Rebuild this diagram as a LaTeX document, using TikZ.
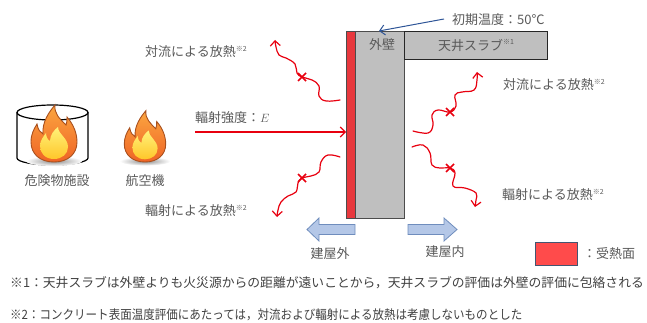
\documentclass[tikz,border=0pt]{standalone}
\usepackage{fontspec}
\newfontfamily\jp{Noto Sans CJK JP}
\usetikzlibrary{arrows.meta,calc}

\definecolor{txt}{HTML}{595959}
\definecolor{notetxt}{HTML}{404040}
\definecolor{heatred}{HTML}{E8383D}
\definecolor{legendred}{HTML}{FF4B4B}
\definecolor{wallgray}{HTML}{BFBFBF}
\definecolor{waver}{HTML}{E8000F}
\definecolor{tempblue}{HTML}{2E5597}
\definecolor{blockfill}{HTML}{B4C7E7}
\definecolor{blockedge}{HTML}{6F8DBD}
\definecolor{flameedge}{HTML}{A9501E}
\definecolor{flametop}{HTML}{FBA640}
\definecolor{flamebot}{HTML}{EF6426}
\definecolor{coretop}{HTML}{FFF27A}
\definecolor{corebot}{HTML}{FFC62A}

% small raised note mark
\newcommand\noteref[1]{\raisebox{0.45em}{\fontsize{7}{7}\selectfont ※#1}}

\tikzset{
  lbl/.style={font=\jp\fontsize{13}{15}\selectfont, text=txt, inner sep=0pt},
  note/.style={font=\jp\fontsize{12.8}{14}\selectfont, text=notetxt, inner sep=0pt, anchor=west},
  wave/.style={waver, line width=1.2pt, line cap=round, line join=round,
    -{Straight Barb[length=5pt,width=10pt]}},
  crossline/.style={waver, line width=1.5pt},
  block/.style={fill=blockfill, draw=blockedge, line width=0.8pt},
  panel/.style={draw=black!70, line width=0.8pt, inner sep=0pt, anchor=north west},
  xcross/.pic={\draw[crossline] (-4,-4) -- (4,4) (-4,4) -- (4,-4);},
  flame/.pic={
    \shade[shading=radial, inner color=black!45, outer color=white] (0,-1) ellipse (28 and 5);
    \path[draw=flameedge, line width=0.9pt, top color=flametop, bottom color=flamebot]
      (0,0) .. controls (-14,0) and (-23,-8) .. (-23,-20)
      .. controls (-23,-28) and (-20,-33) .. (-17,-38)
      .. controls (-16,-32) and (-14,-30) .. (-11,-28)
      .. controls (-12,-40) and (-5,-50) .. (1,-57)
      .. controls (0,-48) and (6,-43) .. (12,-37)
      .. controls (13,-39) and (13,-42) .. (13,-45)
      .. controls (20,-37) and (23,-28) .. (23,-20)
      .. controls (23,-8) and (14,0) .. (0,0) -- cycle;
    \path[top color=coretop, bottom color=corebot]
      (0,-3) .. controls (-9,-3) and (-14,-9) .. (-14,-16)
      .. controls (-14,-22) and (-10,-26) .. (-8,-29)
      .. controls (-8,-25) and (-6,-22) .. (-4,-21)
      .. controls (-4,-27) and (0,-32) .. (4,-35)
      .. controls (4,-28) and (14,-24) .. (14,-15)
      .. controls (14,-8) and (8,-3) .. (0,-3) -- cycle;
  }
}

\begin{document}
\begin{tikzpicture}[x=1pt,y=-1pt]
\useasboundingbox (0,0) rectangle (647,323);

% fire sources
\draw[black, line width=1.2pt] (17,112.5) -- (17,158)
  arc[start angle=180, end angle=0, x radius=35.5, y radius=7] -- (88,112.5);
\draw[black, line width=1.2pt] (52.5,112.5) ellipse (35.5 and 7.5);
\pic at (54,162) {flame};
\pic[scale=0.9] at (145,162) {flame};
\node[lbl] (tank) at (57,181) {危険物施設};
\node[lbl] (plane) at (145,181) {航空機};

% wall and ceiling slab
\node[panel, fill=wallgray, minimum width=49pt, minimum height=187pt] (wall) at (355,31) {};
\node[panel, fill=heatred, minimum width=9pt, minimum height=187pt] (strip) at (346,31) {};
\node[panel, draw=black!85, line width=1.1pt, fill=wallgray, minimum width=143pt, minimum height=28pt,
  lbl, draw=black!85] (slab) at (404,31) {天井スラブ\noteref{1}};
\node[lbl] (walltxt) at (382,45) {外壁};

% initial temperature
\node[lbl, anchor=west] (temp) at (452,20) {初期温度：50℃};
\coordinate (wallpt) at (379,31);
\draw[tempblue, line width=1pt, -{Straight Barb[length=5pt,width=10pt]}] ($(temp.west)+(-8,-1)$) -- (wallpt);

% incident radiation
\coordinate (esrc) at (195,132);
\draw[waver, line width=1.1pt, -{Straight Barb[length=5pt,width=10pt]}] (esrc) -- (esrc -| strip.west);
\node[lbl, anchor=west] (etxt) at (195,118) {輻射強度：$E$};

% heat loss (not considered)
\draw[wave] plot[smooth, tension=0.7] coordinates {(340,100) (326,101) (319,96) (319,86) (312,80) (302,77) (297,73) (295,64) (286,58) (279,55) (276,47) (275,40)};
\draw[wave] plot[smooth, tension=0.7] coordinates {(340,157) (328,155) (321,162) (319,172) (311,176) (302,178) (298,183) (296,192) (288,196) (281,202) (278,210) (277,217)};
\draw[wave] plot[smooth, tension=0.7] coordinates {(413,131) (428,133) (433,125) (432,115) (438,110) (450,112) (456,106) (455,95) (462,92) (474,90) (477,80) (477,72)};
\draw[wave] plot[smooth, tension=0.7] coordinates {(412,147) (423,145) (430,153) (432,165) (440,168) (450,168) (455,173) (453,186) (465,188) (476,193) (476,200) (475,207)};
\pic at (302,77) {xcross};
\pic at (302,178) {xcross};
\pic at (450,112) {xcross};
\pic at (450,168) {xcross};

\node[lbl, anchor=west] (convL) at (145,52) {対流による放熱\noteref{2}};
\node[lbl, anchor=west] (radL) at (145,211) {輻射による放熱\noteref{2}};
\node[lbl, anchor=west] (convR) at (503,85) {対流による放熱\noteref{2}};
\node[lbl, anchor=west] (radR) at (502,195) {輻射による放熱\noteref{2}};

% outside / inside directions
\draw[block] (307,229.5) -- (319,218) -- (319,224.5) -- (355,224.5) -- (355,234.5) -- (319,234.5) -- (319,241) -- cycle;
\draw[block] (457,229.5) -- (444,218) -- (444,224.5) -- (408,224.5) -- (408,234.5) -- (444,234.5) -- (444,241) -- cycle;
\node[lbl] (outside) at (330,254) {建屋外};
\node[lbl] (inside) at (445,252) {建屋内};

% legend
\node[draw=blockedge!60!black, line width=1pt, fill=legendred, minimum width=42pt, minimum height=23pt,
  inner sep=0pt, anchor=north west] (key) at (535,242) {};
\node[lbl, anchor=west] (keytxt) at (583,254) {：受熱面};

% notes
\node[note] (n1) at (10,283) {※1：天井スラブは外壁よりも火災源からの距離が遠いことから，天井スラブの評価は外壁の評価に包絡される};
\node[note] (n2) at (10,315) {\scalebox{0.9}[1]{※2：コンクリート表面温度評価にあたっては，対流および輻射による放熱は考慮しないものとした}};
\end{tikzpicture}
\end{document}
